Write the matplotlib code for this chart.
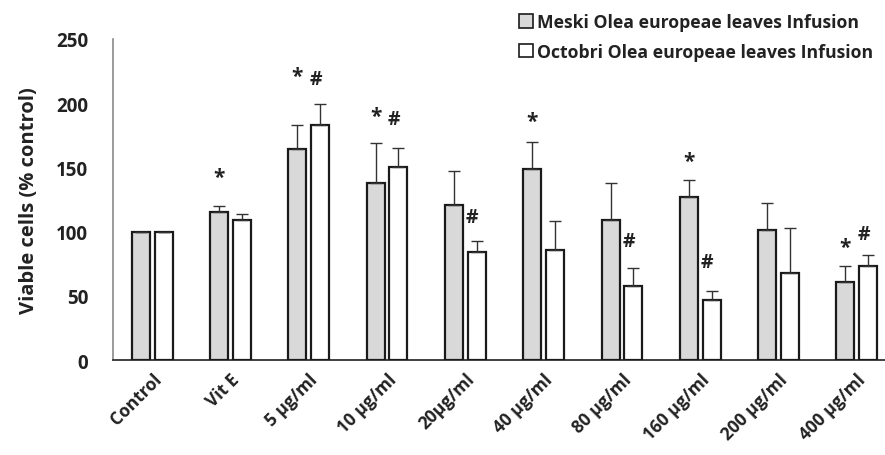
import numpy as np
import matplotlib
matplotlib.use("Agg")
import matplotlib.pyplot as plt
from matplotlib.patches import Patch

# -------------------- DATA --------------------

categories = ["Control", "Vit E", "5 µg/ml", "10 µg/ml", "20µg/ml",
              "40 µg/ml", "80 µg/ml", "160 µg/ml", "200 µg/ml", "400 µg/ml"]

meski_mean = [100, 115, 164, 138, 121, 149, 109, 127, 101, 61]
meski_err = [0, 5, 19, 31, 26, 21, 29, 13, 21, 12]

octobri_mean = [100, 109, 183, 150, 84, 86, 58, 47, 68, 73]
octobri_err = [0, 5, 16, 15, 9, 22, 14, 7, 35, 9]

# significance marks: (group index, y value)
meski_star = [(1, 142), (2, 221), (3, 190), (5, 186), (7, 155), (9, 88)]
octobri_hash = [(2, 219), (3, 188), (4, 111), (6, 93), (7, 76), (9, 98)]

# -------------------- PLOT --------------------

plt.rcParams["font.family"] = ["Open Sans", "DejaVu Sans"]
plt.rcParams["font.weight"] = "bold"

fig = plt.figure(figsize=(8.85, 4.56), dpi=100)
ax = fig.add_axes([0.1277, 0.2083, 0.8847, 0.704])

x = np.arange(len(categories))
w = 0.23
off = 0.145

err_style = dict(ecolor="#333333", elinewidth=1.0, capsize=4.5, capthick=1.0)

ax.bar(x - off, meski_mean, w, color="#d9d9d9", edgecolor="#1a1a1a",
       linewidth=1.6, zorder=3,
       yerr=[np.zeros(len(x)), meski_err], error_kw=err_style)
ax.bar(x + off, octobri_mean, w, color="white", edgecolor="#1a1a1a",
       linewidth=1.6, zorder=3,
       yerr=[np.zeros(len(x)), octobri_err], error_kw=err_style)

for i, yv in meski_star:
    ax.text(i - off, yv, "*", ha="center", va="center", fontsize=15,
            fontweight="bold", color="#222222")
for i, yv in octobri_hash:
    ax.text(i + off - 0.06, yv, "#", ha="center", va="center", fontsize=14,
            fontweight="bold", color="#222222")

ax.set_xlim(-0.5, len(categories) - 0.5)
ax.set_ylim(0, 250)
ax.set_yticks([0, 50, 100, 150, 200, 250])
ax.tick_params(axis="y", length=0, labelsize=13.5, pad=18, colors="#222222")
ax.tick_params(axis="x", length=0, labelsize=12.5, pad=7, colors="#222222")
ax.set_xticks(x)
ax.set_xticklabels(categories, rotation=45, ha="right", rotation_mode="anchor",
                   fontweight="bold")
for lab in ax.get_yticklabels():
    lab.set_fontweight("bold")

ax.set_ylabel("Viable cells (% control)", fontsize=14.5, fontweight="bold",
              color="#222222", labelpad=12)

for s in ["top", "right"]:
    ax.spines[s].set_visible(False)
ax.spines["left"].set_color("#8a8a8a")
ax.spines["left"].set_linewidth(1.2)
ax.spines["bottom"].set_color("#404040")
ax.spines["bottom"].set_linewidth(1.4)

handles = [Patch(facecolor="#d9d9d9", edgecolor="#1a1a1a", linewidth=1.2,
                 label="Meski Olea europeae leaves Infusion"),
           Patch(facecolor="white", edgecolor="#1a1a1a", linewidth=1.2,
                 label="Octobri Olea europeae leaves Infusion")]
leg = fig.legend(handles=handles, loc="upper left", bbox_to_anchor=(0.568, 1.004),
                 frameon=False, handlelength=0.8, handleheight=0.8,
                 handletextpad=0.25, labelspacing=0.65,
                 prop={"size": 12.7, "weight": "bold"})
for t in leg.get_texts():
    t.set_color("#222222")

fig.savefig("out.png", dpi=100)
